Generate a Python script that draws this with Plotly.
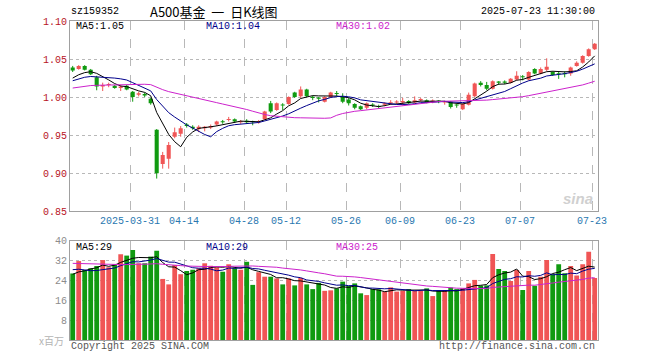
import plotly.graph_objects as go

# ---------------- data ----------------
mar = ["03-17","03-18","03-19","03-20","03-21","03-24","03-25","03-26","03-27","03-28","03-31"]
apr = ["04-01","04-02","04-03","04-07","04-08","04-09","04-10","04-11","04-14","04-15","04-16",
       "04-17","04-18","04-21","04-22","04-23","04-24","04-25","04-28","04-29","04-30"]
may = ["05-06","05-07","05-08","05-09","05-12","05-13","05-14","05-15","05-16","05-19","05-20",
       "05-21","05-22","05-23","05-26","05-27","05-28","05-29","05-30"]
jun = ["06-03","06-04","06-05","06-06","06-09","06-10","06-11","06-12","06-13","06-16","06-17",
       "06-18","06-19","06-20","06-23","06-24","06-25","06-26","06-27","06-30"]
jul = ["07-01","07-02","07-03","07-04","07-07","07-08","07-09","07-10","07-11","07-14","07-15",
       "07-16","07-17","07-18","07-21","07-22","07-23"]
dates = ["2025-" + d for d in mar + apr + may + jun + jul]

open_ = [1.039,1.037,1.041,1.036,1.026,1.014,1.016,1.015,1.012,1.015,
         1.007,1.003,1.004,0.998,0.957,0.912,0.919,0.948,0.952,0.964,
         0.961,0.958,0.959,0.960,0.964,0.968,0.970,0.971,0.967,0.969,
         0.968,0.967,0.971,0.992,0.983,0.990,0.991,1.006,1.001,1.010,
         1.000,0.999,0.994,1.000,1.005,1.000,0.997,0.991,0.988,0.986,
         0.990,0.988,0.990,0.992,0.993,0.993,0.995,0.993,0.996,0.996,
         0.994,0.995,0.993,0.994,0.990,0.984,0.990,1.001,1.019,1.016,
         1.011,1.020,1.020,1.019,1.023,1.027,1.023,1.037,1.031,1.036,
         1.033,1.031,1.031,1.031,1.041,1.045,1.054,1.063]
high = [1.041,1.042,1.042,1.037,1.028,1.019,1.019,1.016,1.016,1.016,
        1.008,1.007,1.006,0.999,0.958,0.928,0.941,0.960,0.962,0.966,
        0.963,0.963,0.962,0.964,0.969,0.970,0.974,0.972,0.970,0.971,
        0.969,0.970,0.982,0.995,0.993,0.992,1.001,1.007,1.014,1.011,
        1.002,1.000,1.001,1.007,1.008,1.005,0.999,0.992,0.989,0.993,
        0.992,0.990,0.993,0.996,0.996,0.999,0.996,1.001,0.999,0.997,
        0.997,0.996,0.995,0.995,0.991,0.992,1.006,1.019,1.021,1.020,
        1.022,1.021,1.022,1.025,1.034,1.029,1.034,1.038,1.039,1.051,
        1.034,1.033,1.034,1.040,1.047,1.055,1.064,1.071]
low = [1.033,1.036,1.035,1.029,1.009,1.008,1.013,1.011,1.008,1.009,
       0.994,1.001,1.000,0.990,0.893,0.906,0.906,0.946,0.948,0.960,
       0.957,0.954,0.955,0.958,0.962,0.965,0.968,0.966,0.965,0.965,
       0.963,0.965,0.970,0.979,0.982,0.983,0.990,0.999,0.999,1.000,
       0.996,0.993,0.993,0.999,1.001,0.992,0.989,0.984,0.983,0.984,
       0.987,0.985,0.988,0.990,0.991,0.989,0.991,0.992,0.994,0.992,
       0.992,0.992,0.990,0.985,0.986,0.983,0.989,1.000,1.014,1.009,
       1.010,1.016,1.017,1.018,1.022,1.022,1.022,1.030,1.030,1.034,
       1.028,1.024,1.026,1.028,1.040,1.044,1.053,1.062]
close = [1.035,1.041,1.036,1.030,1.014,1.016,1.017,1.012,1.014,1.010,
         1.000,1.005,1.002,0.992,0.900,0.924,0.937,0.954,0.959,0.962,
         0.959,0.961,0.961,0.962,0.968,0.967,0.971,0.968,0.968,0.967,
         0.967,0.968,0.981,0.981,0.992,0.989,1.000,1.000,1.010,1.001,
         0.999,0.998,1.000,1.006,1.004,0.994,0.992,0.986,0.984,0.992,
         0.989,0.987,0.992,0.993,0.994,0.995,0.992,0.996,0.997,0.993,
         0.995,0.994,0.994,0.987,0.989,0.991,1.003,1.018,1.016,1.011,
         1.021,1.019,1.019,1.024,1.028,1.026,1.033,1.031,1.037,1.040,
         1.029,1.030,1.030,1.039,1.045,1.054,1.063,1.070]
volume = [26.8,31.8,28.2,28.9,29.8,32.2,29.3,30.5,34.5,34.0,
          36.3,30.9,30.9,33.6,36.0,24.6,22.4,30.2,26.5,27.8,
          28.3,28.9,30.9,29.9,29.3,27.5,30.5,28.9,28.3,31.5,
          22.2,27.3,25.5,25.5,24.8,22.4,24.8,22.0,25.0,22.4,
          20.5,23.0,19.8,20.0,20.8,23.5,21.8,22.8,18.8,18.1,
          20.5,20.4,19.5,21.2,19.5,19.8,20.5,19.8,19.8,20.8,
          17.7,19.8,19.8,21.1,20.5,20.8,22.8,24.2,21.9,22.0,
          34.6,28.6,27.8,23.8,28.2,20.1,27.8,21.9,25.5,32.2,
          26.5,30.5,26.9,29.8,26.0,30.5,35.5,25.0]

# closes / volumes of the 29 sessions before the window (feed the moving averages)
prior_close = [1.000,1.003,1.006,1.004,1.008,1.010,1.007,1.005,1.002,0.998,
               1.001,1.004,1.007,1.010,1.012,1.015,1.012,1.010,1.013,1.016,
               1.014,1.017,1.020,1.018,1.021,1.019,1.022,1.024,1.025]
prior_volume = [34,30,36,33,31,35,29,32,34,30,
                33,31,28,35,32,30,34,31,33,32,
                30,31,32,29,29,27,26,25,27.5]

tick_dates = ["2025-03-31","2025-04-14","2025-04-28","2025-05-12","2025-05-26",
              "2025-06-09","2025-06-23","2025-07-07","2025-07-23"]
tick_text = ["2025-03-31","04-14","04-28","05-12","05-26","06-09","06-23","07-07","07-23"]
price_ticks = [0.85,0.90,0.95,1.00,1.05,1.10]
vol_ticks = [8,16,24,32,40]

# ---------------- helpers ----------------
UP = "#f05555"
DOWN = "#109a10"
C5, C10, C30 = "#000000", "#00008b", "#cc22cc"
MONO = "Liberation Mono, DejaVu Sans Mono, monospace"

x = list(range(len(dates)))

def moving_avg(prior, vals, n):
    allv = prior + vals
    p = len(prior)
    return [sum(allv[p + i - n + 1:p + i + 1]) / n for i in x]

up = [c >= o for o, c in zip(open_, close)]
colors = [UP if u else DOWN for u in up]

fig = go.Figure()

# candle wicks
for flag, col in ((True, UP), (False, DOWN)):
    wx, wy = [], []
    for i in x:
        if up[i] == flag:
            wx += [i, i, None]
            wy += [low[i], high[i], None]
    fig.add_trace(go.Scatter(x=wx, y=wy, mode="lines", line=dict(color=col, width=1),
                             hoverinfo="skip", xaxis="x", yaxis="y"))

# candle bodies
min_body = 0.0014
body_base = [min(o, c) for o, c in zip(open_, close)]
body_h = [max(abs(c - o), min_body) for o, c in zip(open_, close)]
fig.add_trace(go.Bar(x=x, y=body_h, base=body_base, width=0.68,
                     marker=dict(color=colors, line=dict(width=0)),
                     xaxis="x", yaxis="y", hoverinfo="skip"))

for n, col in ((5, C5), (10, C10), (30, C30)):
    fig.add_trace(go.Scatter(x=x, y=moving_avg(prior_close, close, n), mode="lines",
                             line=dict(color=col, width=1), xaxis="x", yaxis="y",
                             hoverinfo="skip"))

# volume
fig.add_trace(go.Bar(x=x, y=volume, width=0.8, marker=dict(color=colors, line=dict(width=0)),
                     xaxis="x2", yaxis="y2", hoverinfo="skip"))
for n, col in ((5, C5), (10, C10), (30, C30)):
    fig.add_trace(go.Scatter(x=x, y=moving_avg(prior_volume, volume, n), mode="lines",
                             line=dict(color=col, width=1), xaxis="x2", yaxis="y2",
                             hoverinfo="skip"))

W, H = 660, 360
def px(v): return v / W
def py(v): return 1 - v / H

xdom = [px(70), px(597.7)]
tickpos = [dates.index(d) - 0.45 for d in tick_dates]
xr = [-0.45, 87.5]
GRID = "#b8b8b8"
BORDER = "#a0a0a0"

common_x = dict(range=xr, domain=xdom, tickmode="array", tickvals=tickpos,
                showgrid=True, gridcolor=GRID, griddash="dash", gridwidth=1,
                showline=True, mirror=True, linecolor=BORDER, linewidth=1,
                zeroline=False, ticks="", fixedrange=True, automargin=False)

fig.update_layout(
    width=W, height=H, margin=dict(l=0, r=0, t=0, b=0, autoexpand=False),
    paper_bgcolor="white", plot_bgcolor="white", showlegend=False, barmode="overlay",
    xaxis=dict(**common_x, ticktext=tick_text, showticklabels=True,
               tickfont=dict(family=MONO, size=10, color="#2a78b0"), anchor="y",
               rangeslider=dict(visible=False)),
    yaxis=dict(domain=[py(211.3), py(21)], range=[0.85, 1.10], tickmode="array",
               tickvals=price_ticks, ticktext=["%.2f" % v for v in price_ticks],
               tickfont=dict(family=MONO, size=10, color="#b8141e"),
               showgrid=True, gridcolor=GRID, griddash="dot", gridwidth=1,
               showline=True, mirror=True, linecolor=BORDER, linewidth=1,
               zeroline=False, ticks="", anchor="x", fixedrange=True, automargin=False),
    xaxis2=dict(**common_x, ticktext=[""] * len(tickpos), showticklabels=False, anchor="y2"),
    yaxis2=dict(domain=[py(340), py(240.7)], range=[0, 40], tickmode="array",
                tickvals=vol_ticks, ticktext=[str(v) for v in vol_ticks],
                tickfont=dict(family=MONO, size=10, color="#8c8c8c"),
                showgrid=True, gridcolor=GRID, griddash="dot", gridwidth=1,
                showline=True, mirror=True, linecolor=BORDER, linewidth=1,
                zeroline=False, ticks="", anchor="x2", fixedrange=True, automargin=False),
)

def note(text, x0, y0, anchor="left", color="black", size=10, family=MONO):
    fig.add_annotation(text=text, x=px(x0), y=py(y0), xref="paper", yref="paper",
                       xanchor=anchor, yanchor="middle", showarrow=False,
                       font=dict(family=family, size=size, color=color))

note("sz159352", 69, 12)
note("A500基金\u00a0\u00a0一\u00a0\u00a0日K线图", 214, 12, anchor="center", size=13,
     family="Noto Sans CJK SC, sans-serif")
note("2025-07-23 11:30:00", 597, 12, anchor="right")
note("MA5:1.05", 74, 27, color=C5)
note("MA10:1.04", 204, 27, color=C10)
note("MA30:1.02", 334, 27, color=C30)
note("MA5:29", 74, 247, color=C5)
note("MA10:29", 204, 247, color=C10)
note("MA30:25", 334, 247, color=C30)
note("x百万", 66, 340, anchor="right", color="#b4b4b4", size=10,
     family="Noto Sans CJK SC, sans-serif")
note("Copyright 2025 SINA.COM", 69, 346, color="#555555")
note("http://finance.sina.com.cn", 597, 346, anchor="right", color="#555555")
note("<b><i>sina</i></b>", 595, 198, anchor="right", color="#d0d0d0", size=15,
     family="Arial, Liberation Sans, sans-serif")

fig.write_html("out.html", config={"displayModeBar": False, "staticPlot": True},
               post_script="document.body.style.margin='0px';document.body.style.overflow='hidden';")
